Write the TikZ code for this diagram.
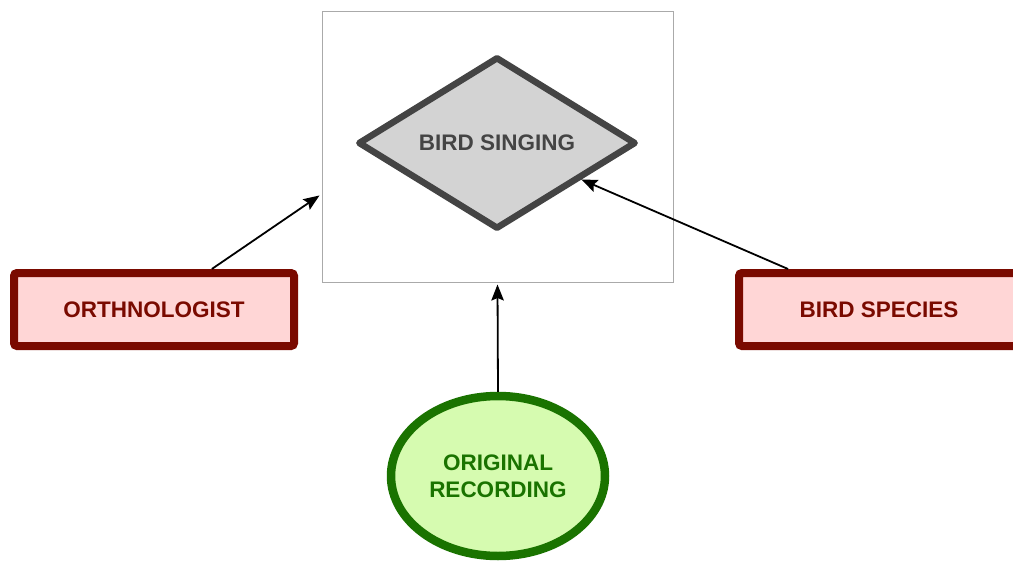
\documentclass[tikz,border=0pt]{standalone}
\usepackage{fontspec}
\setmainfont{Liberation Sans}
\usetikzlibrary{shapes.geometric,arrows.meta,calc}
\definecolor{dred}{HTML}{7A0A00}
\definecolor{pinkf}{HTML}{FFD6D6}
\definecolor{dgreen}{HTML}{1A7300}
\definecolor{greenf}{HTML}{D6FBB0}
\definecolor{dgray}{HTML}{444444}
\definecolor{lgray}{HTML}{D3D3D3}
\definecolor{fgray}{HTML}{AAAAAA}
\tikzset{
  lbl/.style={font=\fontsize{22.5}{27}\selectfont\bfseries, align=center},
  actor/.style={lbl, rectangle, rounded corners=3pt, draw=dred, fill=pinkf, text=dred,
    line width=8pt, minimum width=280pt, minimum height=73pt, inner sep=0pt},
  proc/.style={lbl, diamond, draw=dgray, fill=lgray, text=dgray, line width=6.5pt,
    line join=round, minimum width=278pt, minimum height=166pt, inner sep=0pt},
  store/.style={lbl, ellipse, draw=dgreen, fill=greenf, text=dgreen, line width=8.5pt,
    minimum width=214pt, minimum height=160pt, inner sep=0pt},
  frm/.style={rectangle, draw=fgray, line width=1pt, minimum width=351pt, minimum height=271pt, inner sep=0pt},
  conn/.style={line width=1.8pt, -{Stealth[length=16pt,width=12.5pt,inset=2.5pt]}}
}
\begin{document}
\begin{tikzpicture}[x=1pt,y=-1pt]
\useasboundingbox (0,0) rectangle (1013,565);
\node[frm] (frame) at (497.5,146.5) {};
\node[proc] (sing) at (497,143) {BIRD SINGING};
\node[actor] (orth) at (154,309.5) {ORTHNOLOGIST};
\node[actor] (bird) at (879,309.5) {BIRD SPECIES};
\node[store] (rec) at (498,476) {ORIGINAL\\RECORDING};
\coordinate (fl) at ($(frame.south west)!0.32!(frame.north west)+(-2,0)$);
\draw[conn] (orth.35) -- (fl);
\draw[conn] (bird.156) -- (sing);
\draw[conn] (rec.north) -- ($(frame.south)+(0,2)$);
\end{tikzpicture}
\end{document}
